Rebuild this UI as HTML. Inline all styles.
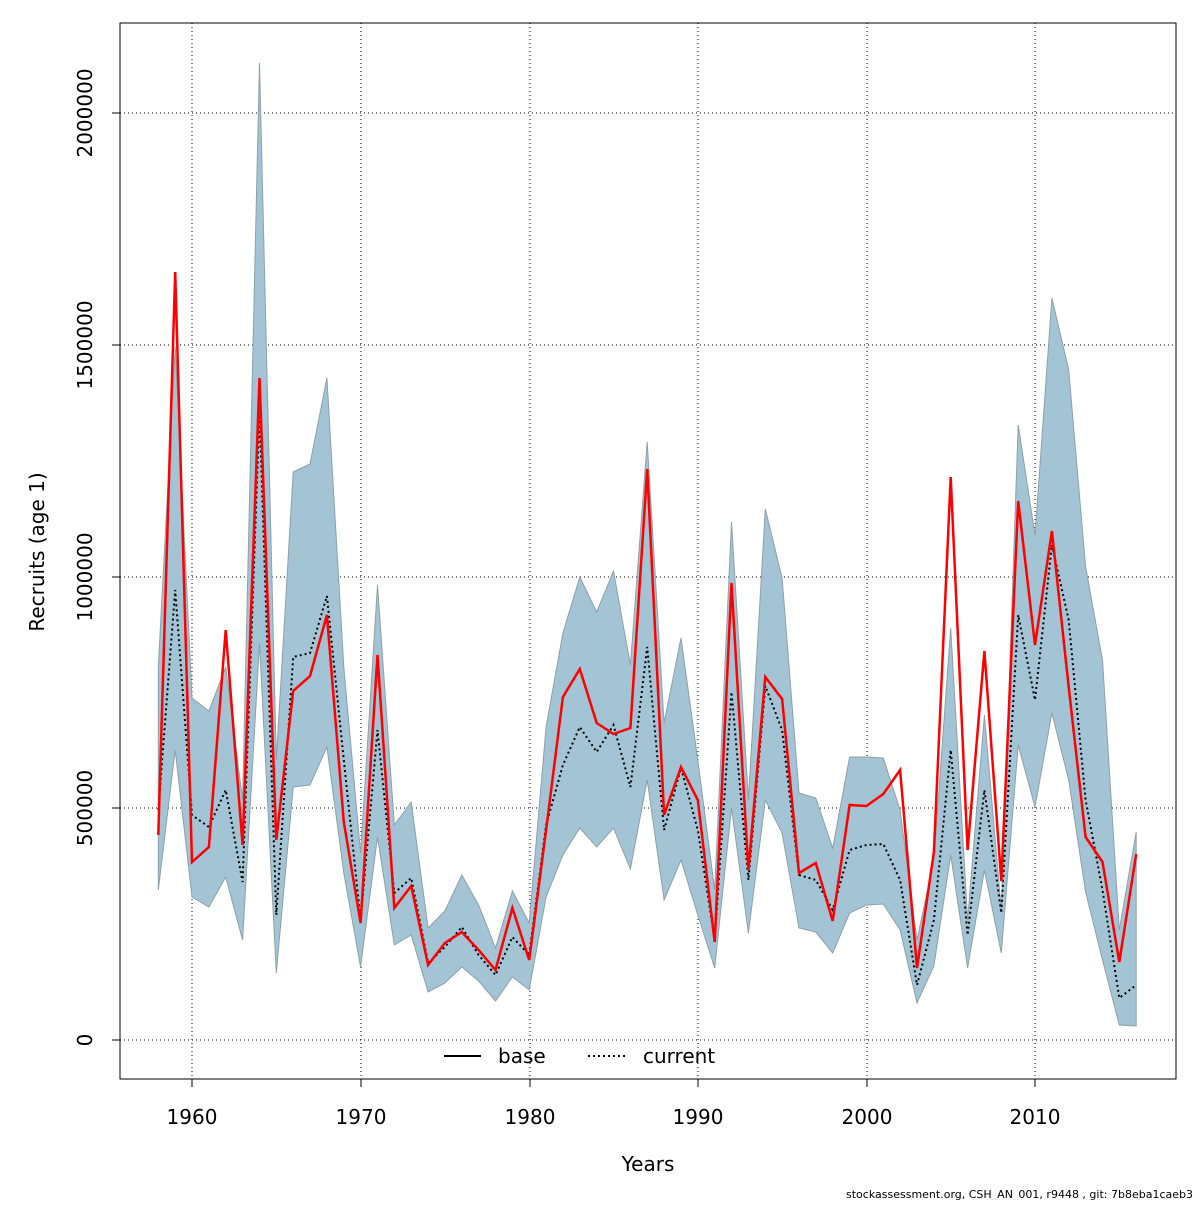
<!DOCTYPE html>
<html><head><meta charset="utf-8"><style>
body{margin:0;background:#fff}
svg text{font-family:"DejaVu Sans","Liberation Sans",sans-serif;fill:#000}
</style></head><body>
<svg id="s" width="1200" height="1200" viewBox="0 0 1200 1200" xmlns="http://www.w3.org/2000/svg">
<rect width="1200" height="1200" fill="#fff"/>
<g id="grid" stroke="#000" stroke-width="1" stroke-dasharray="1,3">
<line x1="192" y1="23" x2="192" y2="1079"/><line x1="361" y1="23" x2="361" y2="1079"/>
<line x1="530" y1="23" x2="530" y2="1079"/><line x1="698" y1="23" x2="698" y2="1079"/>
<line x1="867" y1="23" x2="867" y2="1079"/><line x1="1035" y1="23" x2="1035" y2="1079"/>
<line x1="120" y1="1040" x2="1176" y2="1040"/><line x1="120" y1="808" x2="1176" y2="808"/>
<line x1="120" y1="577" x2="1176" y2="577"/><line x1="120" y1="345" x2="1176" y2="345"/>
<line x1="120" y1="113" x2="1176" y2="113"/>
</g>
<path id="band" fill="#a3c4d5" stroke="#8fa0a8" stroke-width="1"/>
<path id="cur" fill="none" stroke="#000" stroke-width="2" stroke-dasharray="2,3"/>
<path id="base" fill="none" stroke="#ff0000" stroke-width="2.5"/>
<rect x="120" y="23" width="1056" height="1056" fill="none" stroke="#000" stroke-width="1"/>
<g stroke="#000"><line x1="192" y1="1079" x2="192" y2="1087"/><line x1="361" y1="1079" x2="361" y2="1087"/><line x1="530" y1="1079" x2="530" y2="1087"/><line x1="698" y1="1079" x2="698" y2="1087"/><line x1="867" y1="1079" x2="867" y2="1087"/><line x1="1035" y1="1079" x2="1035" y2="1087"/>
<line x1="112" y1="1040" x2="120" y2="1040"/><line x1="112" y1="808" x2="120" y2="808"/><line x1="112" y1="577" x2="120" y2="577"/><line x1="112" y1="345" x2="120" y2="345"/><line x1="112" y1="113" x2="120" y2="113"/></g>
<g font-size="20" text-anchor="middle">
<text x="192" y="1124">1960</text><text x="361" y="1124">1970</text><text x="530" y="1124">1980</text><text x="698" y="1124">1990</text><text x="867" y="1124">2000</text><text x="1035" y="1124">2010</text>
<text transform="translate(92,1040) rotate(-90)">0</text>
<text transform="translate(92,808) rotate(-90)">500000</text>
<text transform="translate(92,577) rotate(-90)">1000000</text>
<text transform="translate(92,345) rotate(-90)">1500000</text>
<text transform="translate(92,113) rotate(-90)">2000000</text>
<text x="648" y="1171">Years</text>
<text transform="translate(44,552) rotate(-90)">Recruits (age 1)</text>
</g>
<line x1="444" y1="1056" x2="481" y2="1056" stroke="#000" stroke-width="2"/>
<text x="498" y="1063" font-size="20">base</text>
<line x1="588" y1="1056" x2="625" y2="1056" stroke="#000" stroke-width="2" stroke-dasharray="2,3"/>
<text x="643" y="1063" font-size="20">current</text>
<text x="1193" y="1198" font-size="11" text-anchor="end">stockassessment.org, CSH_AN_001, r9448 , git: 7b8eba1caeb3</text>
</svg>
<script>
var red=[835,272,862,847,630,845,378,840,691,676,615,822,923,655,908,886,965,943,932,950,970,908,960,830,697,669,723,734,728,469,815,767,800,942,583,870,677,699,873,863,921,805,806,794,770,968,852,477,850,651,881,501,645,531,687,837,862,962,854];
var cur=[810,590,815,827,790,882,412,915,657,653,596,760,920,730,893,878,963,947,927,955,975,937,955,825,765,727,752,725,787,647,830,768,830,940,692,880,686,730,875,880,910,850,845,844,880,985,920,750,935,790,913,615,700,545,620,800,890,998,985];
var up=[667,347,698,711,667,800,63,760,472,464,378,667,853,585,825,802,928,911,875,905,948,891,923,727,633,577,612,571,665,442,723,638,760,890,522,800,509,578,793,798,848,757,757,758,810,940,860,628,920,715,910,425,535,298,370,567,660,930,832];
var lo=[890,750,897,907,877,940,643,973,787,785,747,873,967,837,945,935,992,983,967,981,1001,977,990,897,855,828,847,828,869,780,900,860,915,968,808,933,800,833,928,932,953,913,905,904,930,1003,966,855,968,870,953,745,807,713,780,892,960,1025,1026];
function X(i){return (158.3+i*16.86).toFixed(1)}
function p(a){return a.map(function(v,i){return (i?'L':'M')+X(i)+','+v}).join('')}
var b=p(up);for(var i=lo.length-1;i>=0;i--)b+='L'+X(i)+','+lo[i];b+='Z';
document.getElementById('band').setAttribute('d',b);
document.getElementById('cur').setAttribute('d',p(cur));
document.getElementById('base').setAttribute('d',p(red));
</script>
</body></html>
